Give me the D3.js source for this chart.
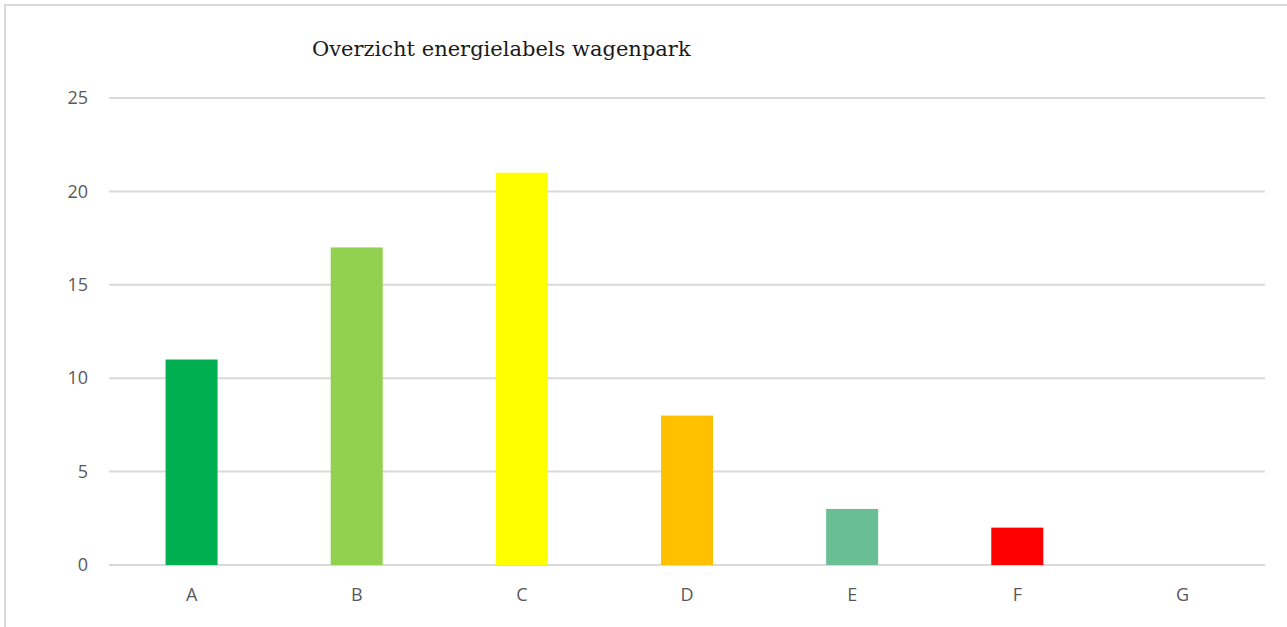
<!doctype html>
<html>
<head>
    <meta charset="UTF-8">
    <title>Overzicht energielabels wagenpark</title>
    <script src="https://d3js.org/d3.v7.min.js"></script>
    <style>
        body { margin: 0; background: #fff; }
        svg { display: block; }
    </style>
</head>
<body>
    <script>
        // data
        var labels = ["A", "B", "C", "D", "E", "F", "G"];
        var counts = [11, 17, 21, 8, 3, 2, 0];
        var colors = ["#00B050", "#92D050", "#FFFF00", "#FFC000", "#6ABE93", "#FF0000", "#FFFFFF"];
        var yTicks = [0, 5, 10, 15, 20, 25];
        var title = "Overzicht energielabels wagenpark";

        var w = 1287;
        var h = 627;
        var plotLeft = 109, plotRight = 1265, plotTop = 98, plotBottom = 565;

        var svg = d3.select("body")
            .append("svg")
            .attr("width", w)
            .attr("height", h);

        // frame (only left and top edge show in the crop)
        svg.append("rect")
            .attr("x", 5)
            .attr("y", 5)
            .attr("width", w + 10)
            .attr("height", h + 10)
            .attr("fill", "none")
            .attr("stroke", "#d9d9d9")
            .attr("stroke-width", 2);

        var x = d3.scaleBand()
            .domain(labels)
            .range([plotLeft, plotRight])
            .paddingInner(0.685)
            .paddingOuter(0.3425);

        var y = d3.scaleLinear()
            .domain([0, 25])
            .range([plotBottom, plotTop]);

        // gridlines
        svg.append("g")
            .selectAll("line")
            .data(yTicks)
            .enter()
            .append("line")
            .attr("x1", plotLeft)
            .attr("x2", plotRight)
            .attr("y1", function (d) { return y(d); })
            .attr("y2", function (d) { return y(d); })
            .attr("stroke", "#d9d9d9")
            .attr("stroke-width", 2);

        // bars
        svg.append("g")
            .selectAll("rect")
            .data(counts)
            .enter()
            .append("rect")
            .attr("x", function (d, i) { return x(labels[i]); })
            .attr("y", function (d) { return y(d); })
            .attr("width", x.bandwidth())
            .attr("height", function (d) { return y(0) - y(d); })
            .attr("fill", function (d, i) { return colors[i]; });

        // y axis labels
        var yAxis = d3.axisLeft(y)
            .tickValues(yTicks)
            .tickSize(0)
            .tickPadding(0);

        svg.append("g")
            .attr("transform", "translate(88,0)")
            .call(yAxis)
            .call(function (g) { g.select(".domain").remove(); })
            .selectAll("text")
            .attr("font-family", "'Open Sans', sans-serif")
            .attr("font-size", 18)
            .attr("fill", "#595959");

        // x axis labels
        var xAxis = d3.axisBottom(x)
            .tickSize(0)
            .tickPadding(0);

        svg.append("g")
            .attr("transform", "translate(0,588)")
            .call(xAxis)
            .call(function (g) { g.select(".domain").remove(); })
            .selectAll("text")
            .attr("font-family", "'Open Sans', sans-serif")
            .attr("font-size", 18)
            .attr("fill", "#595959");

        // title
        svg.append("text")
            .attr("x", 312)
            .attr("y", 56)
            .attr("font-family", "'DejaVu Serif', serif")
            .attr("font-size", 21)
            .attr("fill", "#1a1a1a")
            .text(title);
    </script>
</body>
</html>
